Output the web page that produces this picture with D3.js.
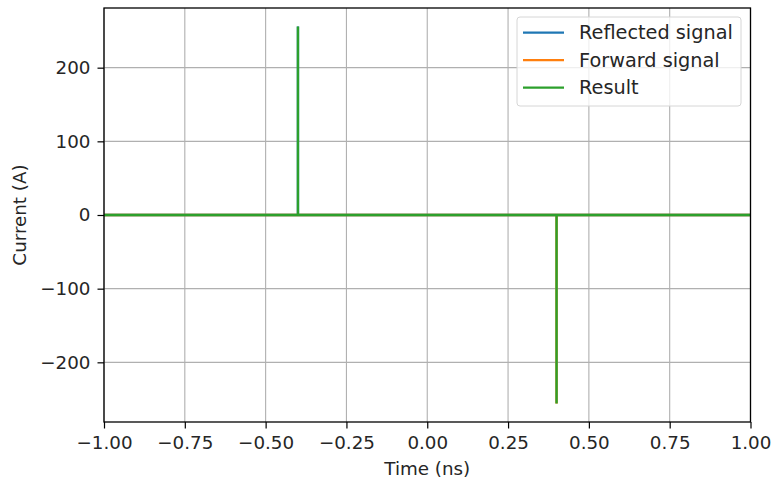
<!DOCTYPE html>
<html>
<head>
<meta charset="utf-8" />
<script src="https://cdn.jsdelivr.net/npm/d3@7/dist/d3.min.js"></script>
<style>
  body { margin: 0; background: #fff; }
  text { font-family: "DejaVu Sans", sans-serif; fill: #262626; }
</style>
</head>
<body>
<script>
// time samples (ns) and the three series
var timeNs    = [-1.0, -0.4, -0.4, -0.4, 0.4, 0.4, 0.4, 1.0];
var reflected = [0, 0, 256, 0, 0, 0, 0, 0];
var forward   = [0, 0, 0, 0, 0, -256, 0, 0];
var result    = [0, 0, 256, 0, 0, -256, 0, 0];
var seriesNames  = ["Reflected signal", "Forward signal", "Result"];
var seriesColors = ["#1f77b4", "#ff7f0e", "#2ca02c"];
var xTicks = [-1.0, -0.75, -0.5, -0.25, 0.0, 0.25, 0.5, 0.75, 1.0];
var yTicks = [-200, -100, 0, 100, 200];

var W = 774, H = 480;
var m = { left: 104, right: 23.5, top: 8, bottom: 58 };
var FS = 18.3;

var svg = d3.select("body").append("svg")
    .attr("width", W).attr("height", H);

var x = d3.scaleLinear().domain([-1, 1]).range([m.left, W - m.right]);
var y = d3.scaleLinear().domain([-281, 281]).range([H - m.bottom, m.top]);

// grid
svg.append("g").selectAll("line").data(xTicks).enter().append("line")
    .attr("x1", function (d) { return x(d); }).attr("x2", function (d) { return x(d); })
    .attr("y1", y.range()[0]).attr("y2", y.range()[1])
    .attr("stroke", "#b0b0b0").attr("stroke-width", 1.1);
svg.append("g").selectAll("line").data(yTicks).enter().append("line")
    .attr("y1", function (d) { return y(d); }).attr("y2", function (d) { return y(d); })
    .attr("x1", x.range()[0]).attr("x2", x.range()[1])
    .attr("stroke", "#b0b0b0").attr("stroke-width", 1.1);

// series
var data = [reflected, forward, result];
var line = d3.line()
    .x(function (d, i) { return x(timeNs[i]); })
    .y(function (d) { return y(d); });
svg.append("g").selectAll("path").data(data).enter().append("path")
    .attr("d", line)
    .attr("fill", "none")
    .attr("stroke", function (d, i) { return seriesColors[i]; })
    .attr("stroke-width", 2.4);

// frame
svg.append("rect")
    .attr("x", x.range()[0]).attr("y", y.range()[1])
    .attr("width", x.range()[1] - x.range()[0])
    .attr("height", y.range()[0] - y.range()[1])
    .attr("fill", "none").attr("stroke", "#000").attr("stroke-width", 1.3);

// axes
var xAxis = d3.axisBottom(x).tickValues(xTicks).tickSize(6.5).tickPadding(8)
    .tickFormat(function (d) { return d3.format(".2f")(d).replace("-", "\u2212"); });
var gx = svg.append("g").attr("transform", "translate(0," + y.range()[0] + ")").call(xAxis);
var yAxis = d3.axisLeft(y).tickValues(yTicks).tickSize(6.5).tickPadding(7)
    .tickFormat(function (d) { return String(d).replace("-", "\u2212"); });
var gy = svg.append("g").attr("transform", "translate(" + x.range()[0] + ",0)").call(yAxis);
[gx, gy].forEach(function (g) {
  g.select(".domain").remove();
  g.selectAll(".tick line").attr("stroke", "#000").attr("stroke-width", 1.2);
  g.selectAll(".tick text").attr("font-size", FS).attr("fill", "#262626")
    .style("font-family", "DejaVu Sans");
});

svg.append("text").attr("x", x(0)).attr("y", 475)
    .attr("text-anchor", "middle").attr("font-size", FS).text("Time (ns)");
svg.append("text").attr("transform", "translate(26," + y(0) + ") rotate(-90)")
    .attr("text-anchor", "middle").attr("font-size", FS).text("Current (A)");

// legend
var lg = svg.append("g");
lg.append("rect").attr("x", 517).attr("y", 17).attr("width", 224).attr("height", 89)
    .attr("rx", 3).attr("fill", "rgba(255,255,255,0.8)")
    .attr("stroke", "#d6d6d6").attr("stroke-width", 1);
var rows = lg.selectAll("g.row").data(seriesNames).enter().append("g")
    .attr("transform", function (d, i) { return "translate(0," + (32.6 + i * 27.5) + ")"; });
rows.append("line").attr("x1", 523).attr("x2", 564)
    .attr("stroke", function (d, i) { return seriesColors[i]; }).attr("stroke-width", 2.4);
rows.append("text").attr("x", 579).attr("dy", "0.35em").attr("font-size", 19.3)
    .text(function (d) { return d; });
</script>
</body>
</html>
